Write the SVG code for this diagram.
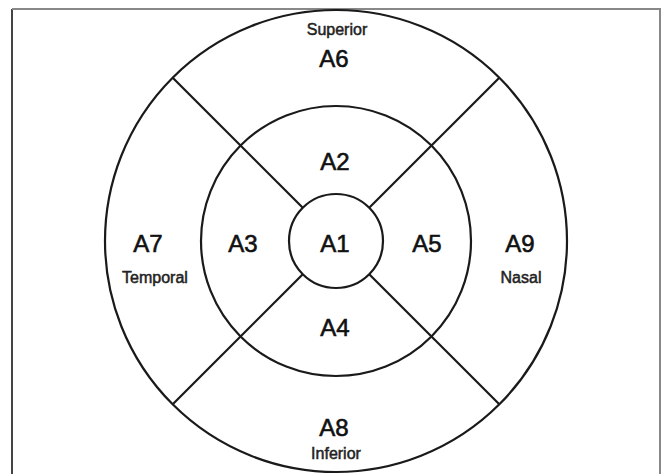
<svg xmlns="http://www.w3.org/2000/svg" width="661" height="474" viewBox="0 0 661 474">
<style>
.ring{fill:none;stroke:#1a1a1a;stroke-width:2.2}
.big{font-family:"Liberation Sans",Arial,sans-serif;font-size:24px;fill:#111;text-anchor:middle;stroke:#111;stroke-width:0.6}
.small{font-family:"Liberation Sans",Arial,sans-serif;font-size:16px;fill:#222;text-anchor:middle;stroke:#222;stroke-width:0.5}
</style>
<rect width="661" height="474" fill="#fff"/>
<g id="frame">
<path d="M12 474 V9" fill="none" stroke="#444" stroke-width="2"/>
<path d="M12 9 H660 V474" fill="none" stroke="#888" stroke-width="2"/>
</g>
<g id="rings">
<circle id="outer" class="ring" cx="336" cy="241" r="231"/>
<circle id="middle" class="ring" cx="336" cy="241" r="135"/>
<circle id="inner" class="ring" cx="336" cy="241" r="47"/>
</g>
<g id="connectors" stroke="#1a1a1a" stroke-width="2.2">
<line x1="172.7" y1="77.7" x2="302.8" y2="207.8"/>
<line x1="499.3" y1="77.7" x2="369.2" y2="207.8"/>
<line x1="172.7" y1="404.3" x2="302.8" y2="274.2"/>
<line x1="499.3" y1="404.3" x2="369.2" y2="274.2"/>
</g>
<g id="A1"><text class="big" x="335" y="252">A1</text></g>
<g id="A2"><text class="big" x="335" y="170">A2</text></g>
<g id="A3"><text class="big" x="243" y="252">A3</text></g>
<g id="A4"><text class="big" x="335" y="336">A4</text></g>
<g id="A5"><text class="big" x="427" y="252">A5</text></g>
<g id="A6"><text class="small" x="337" y="35">Superior</text><text class="big" x="334" y="67">A6</text></g>
<g id="A7"><text class="big" x="148" y="252">A7</text><text class="small" x="155" y="283">Temporal</text></g>
<g id="A8"><text class="big" x="334" y="436">A8</text><text class="small" x="336" y="459">Inferior</text></g>
<g id="A9"><text class="big" x="520" y="252">A9</text><text class="small" x="521" y="283">Nasal</text></g>
</svg>
